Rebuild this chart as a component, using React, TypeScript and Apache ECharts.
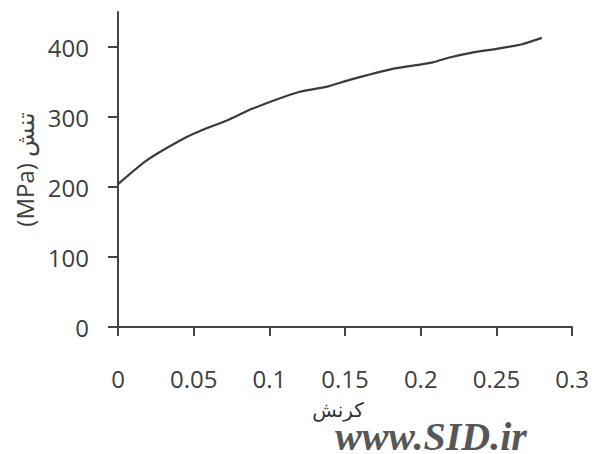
import React, { useEffect, useRef } from "react";
import * as echarts from "echarts";

const strain = [0, 0.019, 0.045, 0.0585, 0.072, 0.089, 0.12, 0.1376, 0.153, 0.18, 0.208, 0.219, 0.234, 0.252, 0.267, 0.28];
const stress = [204, 238, 271, 284, 295, 312, 336, 343, 353, 368, 378, 385, 392, 398, 404, 413];
const yTicks = [0, 100, 200, 300, 400];
const xAxisTitle = "کرنش";
const yAxisTitle = "(MPa) تنش";
const watermark = "www.SID.ir";

export default function App() {
  const ref = useRef<HTMLDivElement>(null);
  useEffect(() => {
    if (!ref.current) return;
    const chart = echarts.init(ref.current, null, { renderer: "svg" });
    const font = "'Open Sans', 'DejaVu Sans', sans-serif";
    chart.setOption({
      animation: false,
      backgroundColor: "#ffffff",
      grid: { left: 118, right: 19, top: 12, bottom: 127 },
      xAxis: {
        type: "value",
        min: 0,
        max: 0.3,
        interval: 0.05,
        name: xAxisTitle,
        nameLocation: "middle",
        nameGap: 72,
        nameTextStyle: { fontFamily: font, fontSize: 20, lineHeight: 20, color: "#333", padding: [0, 14, 0, 0] },
        axisLine: { show: true, lineStyle: { color: "#444", width: 2 } },
        axisTick: { show: true, inside: false, length: 9, lineStyle: { color: "#444", width: 2 } },
        axisLabel: {
          margin: 39,
          fontFamily: font,
          fontSize: 24,
          color: "#3e3e3e",
          formatter: (v: number) => String(Number(v.toFixed(2))),
        },
        splitLine: { show: false },
      },
      yAxis: {
        type: "value",
        min: 0,
        max: 450,
        interval: 50,
        name: yAxisTitle,
        nameLocation: "middle",
        nameGap: 80,
        nameRotate: 90,
        nameTextStyle: { fontFamily: font, fontSize: 24, color: "#3e3e3e" },
        axisLine: { show: true, lineStyle: { color: "#444", width: 2 } },
        axisTick: { show: true, inside: false, length: 10, customValues: yTicks, lineStyle: { color: "#444", width: 2 } },
        axisLabel: {
          margin: 29,
          fontFamily: font,
          fontSize: 24,
          color: "#3e3e3e",
          customValues: yTicks,
        },
        splitLine: { show: false },
      },
      graphic: [
        {
          type: "text",
          left: 335,
          top: 416,
          style: {
            text: watermark,
            fontFamily: "'Liberation Serif', serif",
            fontWeight: "bold",
            fontStyle: "italic",
            fontSize: 40,
            lineHeight: 34,
            fill: "#575757",
          },
        },
      ],
      series: [
        {
          type: "line",
          data: strain.map((x, i) => [x, stress[i]]),
          showSymbol: false,
          lineStyle: { color: "#3a3a3a", width: 2.2 },
          smooth: 0.2,
        },
      ],
    });
    return () => chart.dispose();
  }, []);
  return <div ref={ref} style={{ position: "fixed", left: 0, top: 0, width: 592, height: 454 }} />;
}
